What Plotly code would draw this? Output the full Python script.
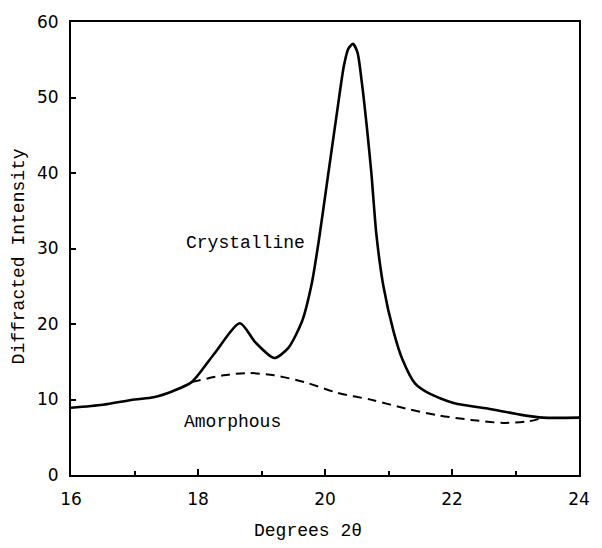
import plotly.graph_objects as go

# Crystalline (total) diffraction curve
cryst_x = [16.0, 16.5, 17.0, 17.3, 17.6, 17.9, 18.25, 18.66, 18.9, 19.2, 19.42, 19.64,
           19.79, 19.9, 20.04, 20.18, 20.3, 20.37, 20.44, 20.51, 20.58, 20.66, 20.73, 20.81, 20.92,
           21.08, 21.22, 21.42, 21.64, 22.04, 22.56, 23.07, 23.43, 24.0]
cryst_y = [8.9, 9.3, 10.0, 10.3, 11.1, 12.3, 16.0, 20.1, 17.6, 15.5, 16.8, 20.4,
           25.3, 30.9, 39.2, 47.5, 54.3, 56.5, 57.1, 56.0, 52.0, 46.0, 40.0, 31.8, 25.0,
           19.0, 15.3, 12.1, 10.8, 9.5, 8.8, 8.0, 7.6, 7.6]

# Amorphous baseline (dashed)
amor_x = [17.9, 18.4, 18.8, 19.2, 19.68, 20.19, 20.76, 21.27, 21.79, 22.3, 22.81, 23.2, 23.45]
amor_y = [12.3, 13.2, 13.5, 13.2, 12.3, 10.9, 9.9, 8.8, 7.9, 7.3, 6.9, 7.1, 7.6]

x_ticks = [16, 18, 20, 22, 24]
y_ticks = [0, 10, 20, 30, 40, 50, 60]

fig = go.Figure()
fig.add_trace(go.Scatter(x=cryst_x, y=cryst_y, mode="lines",
                         line=dict(color="black", width=2.6, shape="spline", smoothing=0.7),
                         showlegend=False))
fig.add_trace(go.Scatter(x=amor_x, y=amor_y, mode="lines",
                         line=dict(color="black", width=2, dash="9px,6px", shape="spline", smoothing=0.8),
                         showlegend=False))

mono = "Liberation Mono"
fig.add_annotation(x=18.75, y=30.7, text="Crystalline", showarrow=False,
                   xanchor="center", yanchor="middle",
                   font=dict(family=mono, size=18, color="black"))
fig.add_annotation(x=18.55, y=7.0, text="Amorphous", showarrow=False,
                   xanchor="center", yanchor="middle",
                   font=dict(family=mono, size=18, color="black"))
fig.add_annotation(xref="paper", yref="paper", x=0.466, y=-0.124, text="Degrees 2θ",
                   xanchor="center", yanchor="middle",
                   showarrow=False, font=dict(family=mono, size=18, color="black"))
fig.add_annotation(xref="paper", yref="paper", x=-0.102, y=0.483, text="Diffracted Intensity",
                   xanchor="center", yanchor="middle",
                   textangle=-90, showarrow=False, font=dict(family=mono, size=18, color="black"))

axis_font = dict(family="DejaVu Sans", size=17, color="black")
fig.update_xaxes(range=[16, 24], tickvals=x_ticks, ticks="inside", ticklen=6, tickwidth=2,
                 tickcolor="black", showline=True, linecolor="black", linewidth=2, mirror=True,
                 showgrid=False, zeroline=False, tickfont=axis_font, ticklabelstandoff=8,
                 minor=dict(dtick=1, tick0=16, ticks="inside", ticklen=4, tickwidth=2, tickcolor="black"))
fig.update_yaxes(range=[0, 60], tickvals=y_ticks, ticks="inside", ticklen=5, tickwidth=2,
                 tickcolor="black", showline=True, linecolor="black", linewidth=2, mirror=True,
                 showgrid=False, zeroline=False, tickfont=axis_font, ticklabelstandoff=7)

fig.update_layout(width=602, height=548, margin=dict(l=71, r=12, t=17, b=73),
                  plot_bgcolor="white", paper_bgcolor="white")

fig.write_html("out.html")
